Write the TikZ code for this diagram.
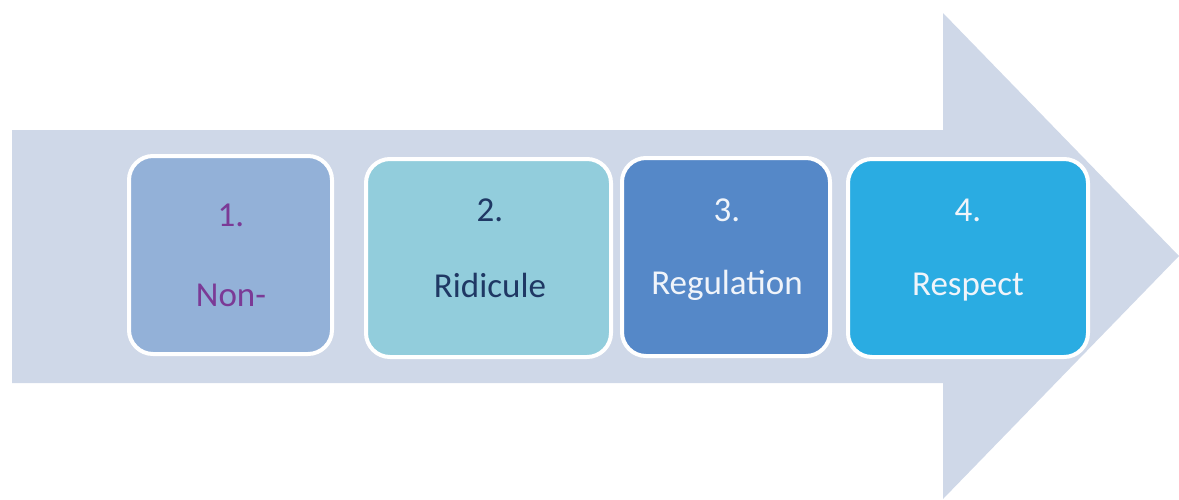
\documentclass[tikz,border=0pt]{standalone}
\usepackage{fontspec}
\setmainfont{Carlito}
\usetikzlibrary{calc}
\definecolor{arrowbg}{RGB}{207, 216, 232}
\definecolor{box1}{RGB}{147, 177, 216}
\definecolor{box2}{RGB}{146, 205, 220}
\definecolor{box3}{RGB}{85, 136, 200}
\definecolor{box4}{RGB}{42, 172, 226}
\definecolor{purple1}{RGB}{123, 58, 150}
\definecolor{navy1}{RGB}{31, 56, 100}
\definecolor{white1}{RGB}{240, 244, 250}

\begin{document}
\begin{tikzpicture}[x=1pt, y=-1pt, line width =4pt]
  \useasboundingbox (0,0) rectangle (1179,499);
  \tikzset{stepbox/.style={rectangle, rounded corners=24pt, draw=white, minimum height=198pt},
           steptext/.style={font=\fontsize{35}{40}\selectfont, inner sep=0pt}}
  % big arrow behind the steps
  \fill[arrowbg] (12,130) -- (943,130) -- (943,13) -- (1179,256) -- (943,499) -- (943,383) -- (12,383) -- cycle;

  \node[stepbox,fill=box1, minimum width=203pt] (b1) at (230.5,255) {};
  \node[stepbox,fill=box2, minimum width=245pt] (b2) at (488.5,258) {};
  \node[stepbox,fill=box3, minimum width=208pt] (b3) at (726,257) {};
  \node[stepbox,fill=box4, minimum width=240pt] (b4) at (968,258) {};

  \node[steptext, text=purple1] (n1) at (231,215) {1.};
  \node[steptext, text=purple1] (t1) at (231,295) {Non-};
  \node[steptext, text=navy1] (n2) at (490,210) {2.};
  \node[steptext, text=navy1] (t2) at (490,285) {Ridicule};
  \node[steptext, text=white1] (n3) at (727,210) {3.};
  \node[steptext, text=white1] (t3) at (727,285) {Regulation};
  \node[steptext, text=white1] (n4) at (968,210) {4.};
  \node[steptext, text=white1] (t4) at (968,287) {Respect};
    \end{tikzpicture}
\end{document}
